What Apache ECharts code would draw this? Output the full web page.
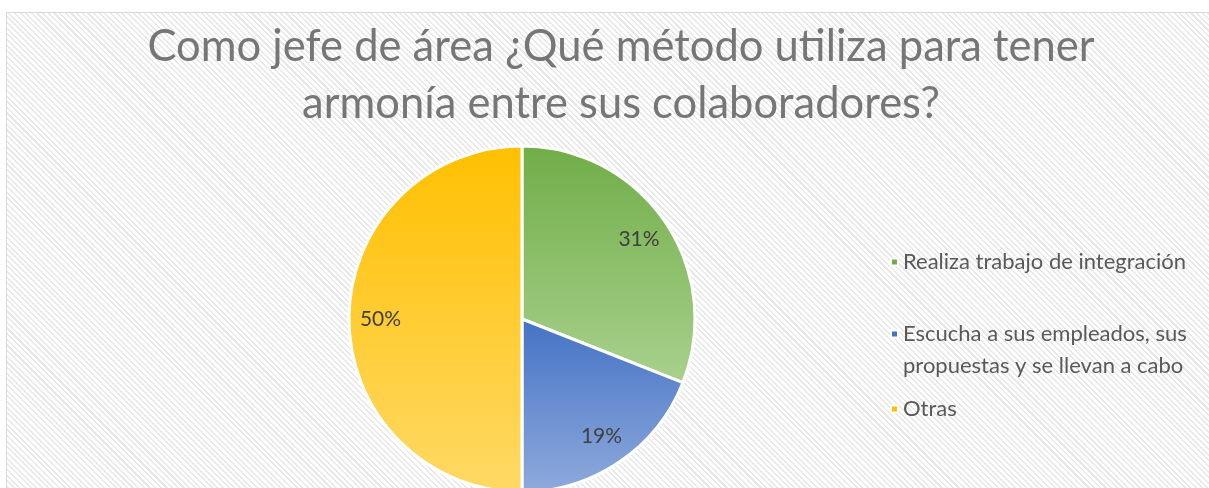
<!DOCTYPE html>
<html>
<head>
<meta charset="utf-8">
<script src="https://cdn.jsdelivr.net/npm/echarts@6/dist/echarts.min.js"></script>
<style>
  html, body { margin: 0; padding: 0; background: #fff; }
  #wrap { position: relative; width: 1209px; height: 488px; overflow: hidden; }
  #bg {
    position: absolute; left: 6px; top: 12px; right: -4px; bottom: -4px;
    border: 1.5px solid #d9d9d9;
    background: #fff repeating-linear-gradient(45deg, #fff 0px, #fff 2.5px, #e8e8e8 2.5px, #e8e8e8 4px);
  }
  #chart { position: absolute; left: 0; top: 0; width: 1209px; height: 488px; }
</style>
</head>
<body>
<div id="wrap">
  <div id="bg"></div>
  <div id="chart"></div>
</div>
<script>
const titleText = "Como jefe de área ¿Qué método utiliza para tener\narmonía entre sus colaboradores?";
const categories = [
  "Realiza trabajo de integración",
  "Escucha a sus empleados, sus propuestas y se llevan a cabo",
  "Otras"
];
const legendLabels = [
  "Realiza trabajo de integración",
  "\nEscucha a sus empleados, sus\npropuestas y se llevan a cabo",
  "Otras"
];
const percents = [31, 19, 50];

document.addEventListener("DOMContentLoaded", function () {
  initPieChart();
});

function grad(top, bottom) {
  return {
    type: "linear", x: 0, y: 0, x2: 0, y2: 1,
    colorStops: [
      { offset: 0, color: top },
      { offset: 1, color: bottom },
    ],
  };
}

function initPieChart() {
  let chartDom = document.getElementById("chart");
  let myChart = echarts.init(chartDom, null, { renderer: "canvas" });

  const fills = [
    grad("#70ad47", "#a9d18e"),
    grad("#4472c4", "#8faadc"),
    grad("#ffc000", "#ffd966"),
  ];
  const markers = ["#70ad47", "#4472c4", "#ffc000"];

  const pieData = categories.map(function (name, i) {
    return { name: name, value: percents[i], itemStyle: { color: fills[i] } };
  });
  const labelData = categories.map(function (name, i) {
    return { name: name, value: percents[i] };
  });

  const font = "Lato";
  // top of each legend box; the second one has a blank first line so its marker sits on line one
  const legendTops = [241, 281, 388];

  const legends = categories.map(function (name, i) {
    return {
      data: [{ name: name, itemStyle: { color: markers[i] } }],
      left: 885,
      top: legendTops[i],
      orient: "vertical",
      icon: "rect",
      itemWidth: 7,
      itemHeight: 7,
      itemGap: 0,
      selectedMode: false,
      formatter: function () { return legendLabels[i]; },
      textStyle: {
        fontFamily: font,
        fontSize: 22,
        color: "#595959",
        lineHeight: 32,
      },
    };
  });

  let option = {
    backgroundColor: "transparent",
    animation: false,
    title: {
      text: titleText,
      left: 616,
      textAlign: "center",
      top: 13,
      textStyle: {
        fontFamily: font,
        fontWeight: "normal",
        fontSize: 43.5,
        lineHeight: 57,
        color: "#767676",
      },
    },
    legend: legends,
    series: [
      {
        type: "pie",
        center: [522, 319],
        radius: 173,
        startAngle: 90,
        clockwise: true,
        label: { show: false },
        labelLine: { show: false },
        itemStyle: { borderColor: "#fff", borderWidth: 3 },
        emphasis: { disabled: true },
        data: pieData,
      },
      {
        type: "pie",
        center: [522, 319],
        radius: [104, 173],
        startAngle: 90,
        clockwise: true,
        silent: true,
        itemStyle: { color: "transparent" },
        label: {
          show: true,
          position: "inside",
          formatter: "{c}%",
          fontFamily: font,
          fontSize: 21,
          color: "#404040",
        },
        labelLine: { show: false },
        emphasis: { disabled: true },
        data: labelData,
      },
    ],
  };

  myChart.setOption(option);

  window.addEventListener("resize", function () {
    myChart.resize();
  });
}
</script>
</body>
</html>
